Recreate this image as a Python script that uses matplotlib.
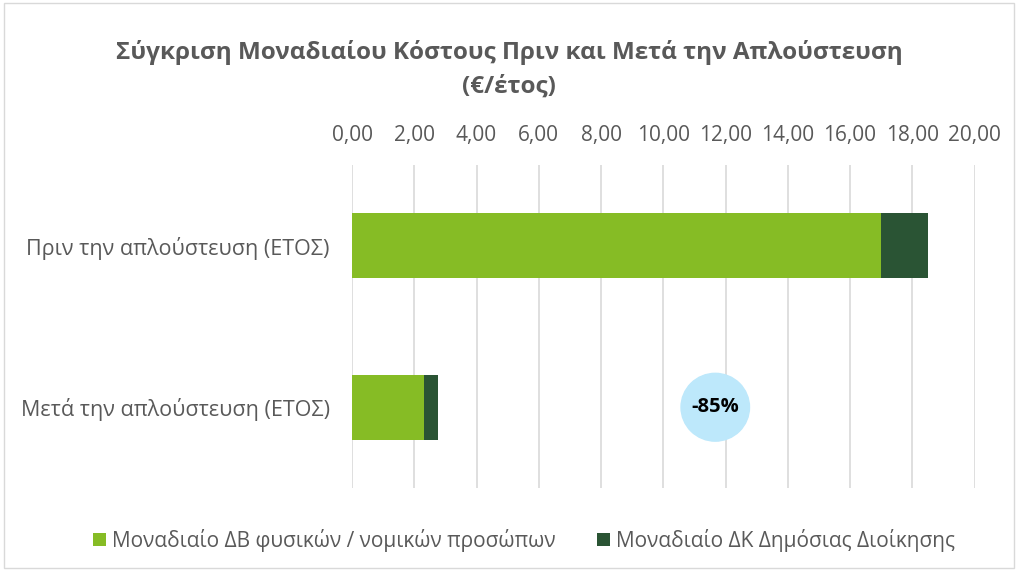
import matplotlib.pyplot as plt
from matplotlib.patches import Rectangle, Ellipse
from matplotlib.ticker import FuncFormatter

plt.rcParams['font.family'] = ['Open Sans', 'DejaVu Sans']

categories = ['Πριν την απλούστευση (ΕΤΟΣ)', 'Μετά την απλούστευση (ΕΤΟΣ)']
private_cost = [17.00, 2.32]
public_cost = [1.49, 0.45]
series_labels = ['Μοναδιαίο ΔΒ φυσικών / νομικών προσώπων',
                 'Μοναδιαίο ΔΚ Δημόσιας Διοίκησης']
change_label = '-85%'
title = 'Σύγκριση Μοναδιαίου Κόστους Πριν και Μετά την Απλούστευση\n(€/έτος)'

GREEN = '#86BC25'
DARK = '#2A5434'
GREY = '#595959'

fig = plt.figure(figsize=(10.18, 5.71), dpi=100)
ax = fig.add_axes([0.3458, 0.1454, 0.6115, 0.5656])

y = range(len(categories))
ax.barh(y, private_cost, height=0.4, color=GREEN, label=series_labels[0], zorder=3)
ax.barh(y, public_cost, left=private_cost, height=0.4, color=DARK,
        label=series_labels[1], zorder=3)

ax.set_xlim(0, 20)
ax.set_ylim(1.5, -0.5)
ax.set_xticks(range(0, 21, 2))
ax.xaxis.set_major_formatter(FuncFormatter(lambda v, p: f'{v:.2f}'.replace('.', ',')))
ax.xaxis.tick_top()
ax.tick_params(axis='x', length=0, pad=14, labelsize=15, labelcolor=GREY)
ax.set_yticks(list(y))
ax.set_yticklabels(categories)
ax.tick_params(axis='y', length=0, pad=16, labelsize=15.5, labelcolor=GREY)
ax.grid(axis='x', color='#D9D9D9', linewidth=1.2, zorder=0)
for s in ax.spines.values():
    s.set_visible(False)

# change marker
circ = Ellipse((11.67, 1), width=2.2, height=0.42, color='#BDE8FB', zorder=4)
ax.add_patch(circ)
ax.text(11.67, 1, change_label, ha='center', va='center', fontsize=14.5,
        fontweight='bold', color='black', zorder=5)

fig.text(0.5, 0.878, title, ha='center', va='center', fontsize=17.5,
         fontweight='bold', color=GREY, linespacing=1.55)

leg = fig.legend(loc='center', bbox_to_anchor=(0.515, 0.054), ncol=2, frameon=False,
                 fontsize=15, handlelength=0.6, handleheight=0.6,
                 handletextpad=0.3, columnspacing=2.0)
for t in leg.get_texts():
    t.set_color(GREY)

fig.patches.append(Rectangle((0.004, 0.006), 0.992, 0.988, transform=fig.transFigure,
                             fill=False, edgecolor='#D9D9D9', linewidth=1))

fig.savefig('out.png', dpi=100)
